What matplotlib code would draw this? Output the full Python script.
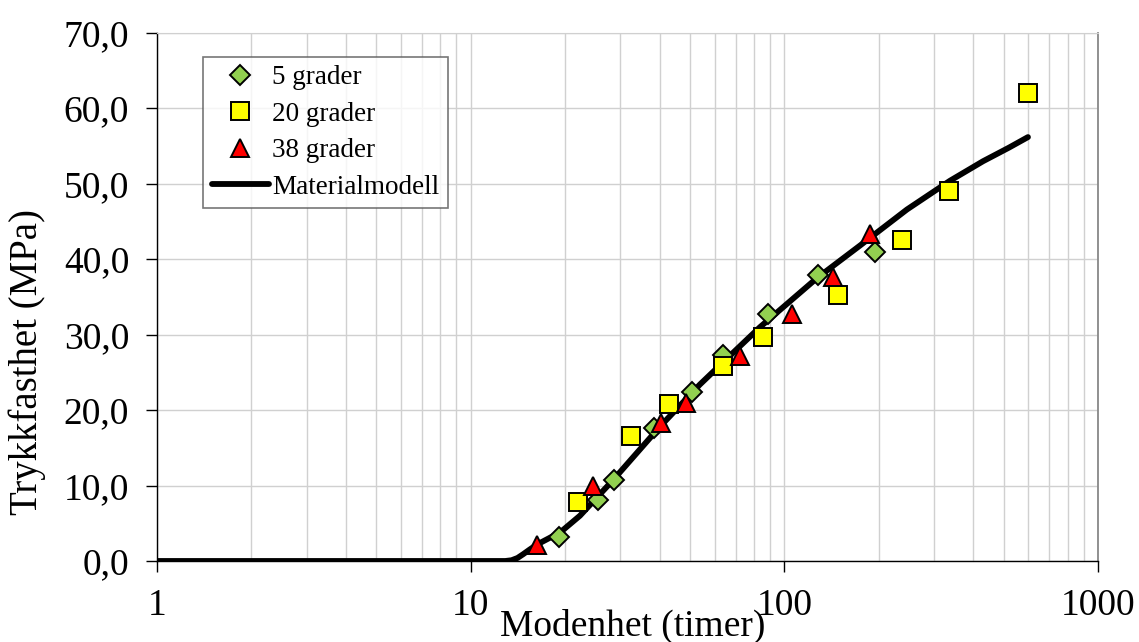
import numpy as np
import matplotlib.pyplot as plt
from matplotlib.ticker import FixedLocator, FuncFormatter, LogLocator, NullFormatter

plt.rcParams['font.family'] = ['Liberation Serif', 'DejaVu Serif']

# 5 grader
x5 = [19.1, 25.5, 28.6, 38.4, 50.7, 63.7, 88.7, 128, 194]
y5 = [3.2, 8.1, 10.7, 17.6, 22.4, 27.3, 32.7, 37.9, 40.9]
# 20 grader
x20 = [22.0, 32.4, 42.9, 63.7, 85.5, 148, 237, 335, 598]
y20 = [7.8, 16.6, 20.8, 25.8, 29.7, 35.3, 42.5, 49.1, 62.1]
# 38 grader
x38 = [16.3, 24.5, 40.4, 48.5, 72.2, 106, 143, 187]
y38 = [2.1, 9.9, 18.3, 20.9, 27.2, 32.8, 37.7, 43.4]
# Materialmodell
xm = [1, 12.9, 13.5, 14.1, 14.7, 15.4, 16.3, 19.3, 22.3, 28.4, 40.1, 53.8,
      68.6, 83.6, 127, 174, 246, 337, 430, 520, 598]
ym = [0, 0, 0.1, 0.4, 0.9, 1.5, 2.2, 3.8, 6.0, 10.7, 17.8, 23.4,
      27.6, 31.0, 37.5, 41.8, 46.6, 50.4, 53.0, 54.8, 56.2]

fig = plt.figure(figsize=(11.39, 6.42), dpi=100)
ax = fig.add_axes([157 / 1139, 81 / 642, 941 / 1139, 528 / 642])

ax.plot(xm, ym, color='black', lw=4.2, solid_capstyle='round',
        solid_joinstyle='round', zorder=3, label='Materialmodell')
ax.plot(x5, y5, 'D', ms=10, mfc='#92D050', mec='black', mew=1.4,
        zorder=4, label='5 grader')
ax.plot(x20, y20, 's', ms=13.5, mfc='#FFFF00', mec='black', mew=1.4,
        zorder=5, label='20 grader')
ax.plot(x38, y38, '^', ms=13.5, mfc='#FF0000', mec='black', mew=1.4,
        zorder=6, label='38 grader')

ax.set_xscale('log')
ax.set_xlim(1, 1000)
ax.set_ylim(0, 70)

ax.xaxis.set_major_locator(FixedLocator([1, 10, 100, 1000]))
ax.xaxis.set_major_formatter(FuncFormatter(lambda v, p: '%d' % v))
ax.xaxis.set_minor_locator(LogLocator(base=10, subs=np.arange(2, 10)))
ax.xaxis.set_minor_formatter(NullFormatter())
ax.yaxis.set_major_locator(FixedLocator(range(0, 71, 10)))
ax.yaxis.set_major_formatter(FuncFormatter(lambda v, p: ('%.1f' % v).replace('.', ',')))

ax.tick_params(axis='x', which='major', direction='out', length=8, width=1,
               labelsize=27, pad=12)
ax.tick_params(axis='x', which='minor', length=0)
ax.tick_params(axis='y', direction='out', length=8, width=1,
               labelsize=27, pad=12)

ax.grid(True, which='both', axis='x', color='#d0d0d0', lw=1)
ax.grid(True, which='major', axis='y', color='#d0d0d0', lw=1)
ax.set_axisbelow(True)

for s in ['left', 'bottom']:
    ax.spines[s].set_color('black')
    ax.spines[s].set_linewidth(1)
ax.spines['right'].set_color('#888888')
ax.spines['right'].set_linewidth(1.3)
ax.spines['top'].set_color('#d0d0d0')

ax.set_xlabel('Modenhet (timer)', fontsize=27)
ax.xaxis.set_label_coords(0.505, -0.09)
ax.set_ylabel('Trykkfasthet (MPa)', fontsize=28)
ax.yaxis.set_label_coords(-0.118, 0.377)

h, l = ax.get_legend_handles_labels()
order = [1, 2, 3, 0]
leg = ax.legend([h[i] for i in order], [l[i] for i in order],
                loc='upper left', bbox_to_anchor=(0.049, 0.955),
                borderaxespad=0, fontsize=19.5, frameon=True, fancybox=False,
                handlelength=2.1, handletextpad=0.12, labelspacing=0.42,
                borderpad=0.32)
leg.get_frame().set_edgecolor('#555555')
leg.get_frame().set_linewidth(1.2)

fig.savefig('out.png', dpi=100)
